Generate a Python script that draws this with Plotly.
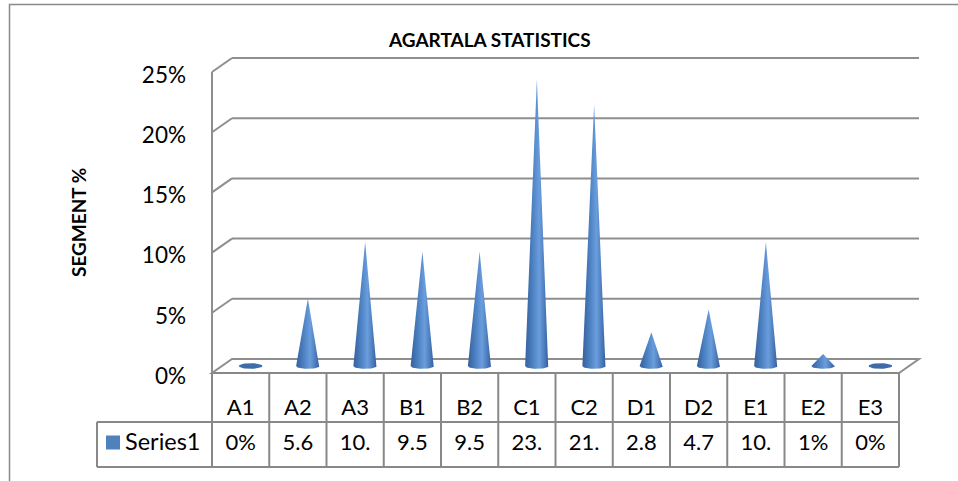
import numpy as np
import plotly.graph_objects as go

# ---------------- data ----------------
categories = ["A1", "A2", "A3", "B1", "B2", "C1", "C2", "D1", "D2", "E1", "E2", "E3"]
values = [0.0, 5.6, 10.3, 9.5, 9.5, 23.8, 21.7, 2.8, 4.7, 10.3, 1.0, 0.0]
table_text = ["0%", "5.6", "10.", "9.5", "9.5", "23.", "21.", "2.8", "4.7", "10.", "1%", "0%"]
y_ticks = [0, 5, 10, 15, 20, 25]
y_tick_text = ["0%", "5%", "10%", "15%", "20%", "25%"]
series_name = "Series1"
chart_title = "AGARTALA STATISTICS"
y_title = "SEGMENT %"

# ---------------- geometry (pixels) ----------------
W, H = 958, 481
X0, COL = 212.0, 57.25      # left of first category column, column width
Y0, PPU = 373.0, 12.04      # pixel of 0 %, pixels per 1 %
n = len(categories)

def px(x):
    return (x - X0) / COL

def py(y):
    return (Y0 - y) / PPU

DX = 20.0 / COL   # depth offset of the back wall
DY = 14.0 / PPU

FONT = "Lato, Carlito, Calibri, 'Open Sans', sans-serif"
GRID = "#8e8e8e"
TBL = "#888888"

fig = go.Figure()
shapes = []

# outer chart border
shapes.append(dict(type="rect", x0=px(9.5), x1=px(1000), y0=py(4.5), y1=py(520),
                   line=dict(color="#898989", width=1.5), fillcolor="rgba(0,0,0,0)", layer="below"))

# floor
shapes.append(dict(type="path",
                   path=f"M {0},{0} L {n},{0} L {n+DX},{DY} L {DX},{DY} Z",
                   line=dict(color=GRID, width=2), fillcolor="white", layer="below"))
# back wall grid lines
for t in y_ticks:
    if t == 0:
        continue
    shapes.append(dict(type="line", x0=DX, x1=n + DX, y0=t + DY, y1=t + DY,
                       line=dict(color=GRID, width=2), layer="below"))
    shapes.append(dict(type="line", x0=0, x1=DX, y0=t, y1=t + DY,
                       line=dict(color=GRID, width=2), layer="below"))
# left wall front edge
shapes.append(dict(type="line", x0=0, x1=0, y0=0, y1=max(y_ticks),
                   line=dict(color=GRID, width=2), layer="below"))

# data table grid
row1_bot = py(422)
row2_bot = py(467)
leg_left = px(97)
shapes.append(dict(type="line", x0=0, x1=n, y0=0, y1=0, line=dict(color=TBL, width=2)))
for yy in (row1_bot, row2_bot):
    shapes.append(dict(type="line", x0=leg_left, x1=n, y0=yy, y1=yy, line=dict(color=TBL, width=2)))
for k in range(n + 1):
    shapes.append(dict(type="line", x0=k, x1=k, y0=0, y1=row2_bot, line=dict(color=TBL, width=2)))
shapes.append(dict(type="line", x0=leg_left, x1=leg_left, y0=row1_bot, y1=row2_bot,
                   line=dict(color=TBL, width=2)))
# legend key
shapes.append(dict(type="rect", x0=px(106), x1=px(120), y0=py(435.5), y1=py(449.5),
                   line=dict(width=0), fillcolor="#4f81bd"))

# cones
w = 11.75 / COL
h = 2.8 / PPU
b = DY / 2
theta = np.linspace(0, -np.pi, 25)
for i, v in enumerate(values):
    c = i + 0.5 + DX / 2
    if v == 0:
        th = np.linspace(0, 2 * np.pi, 40)
        xs = c + w * np.cos(th)
        ys = b + h * np.sin(th)
        fig.add_trace(go.Scatter(x=xs, y=ys, fill="toself", mode="lines",
                                 line=dict(width=0, color="#3d6ca8"), fillcolor="#3d6ca8",
                                 hoverinfo="skip", showlegend=False))
    else:
        xs = np.concatenate([[c], c + w * np.cos(theta), [c]])
        ys = np.concatenate([[b + v], b + h * np.sin(theta), [b + v]])
        fig.add_trace(go.Scatter(
            x=xs, y=ys, fill="toself", mode="lines", line=dict(width=0, color="#4a7ebb"),
            fillgradient=dict(type="horizontal", start=c - w, stop=c + w,
                              colorscale=[[0, "#365f9c"], [0.3, "#4a7fc0"], [0.6, "#6a9ddc"],
                                          [0.85, "#4877b8"], [1, "#335c98"]]),
            hoverinfo="skip", showlegend=False, name=categories[i]))

# table texts
xc = [i + 0.5 for i in range(n)]
fig.add_trace(go.Scatter(x=xc, y=[py(409)] * n, mode="text", text=categories,
                         textfont=dict(family=FONT, size=22, color="black"),
                         hoverinfo="skip", showlegend=False))
fig.add_trace(go.Scatter(x=xc, y=[py(444.5)] * n, mode="text", text=table_text,
                         textfont=dict(family=FONT, size=22, color="black"),
                         hoverinfo="skip", showlegend=False))
fig.add_trace(go.Scatter(x=[px(125)], y=[py(444)], mode="text", text=[series_name],
                         textposition="middle right",
                         textfont=dict(family=FONT, size=23.5, color="black"),
                         hoverinfo="skip", showlegend=False))

fig.update_layout(
    width=W, height=H,
    margin=dict(l=0, r=0, t=0, b=0),
    paper_bgcolor="white", plot_bgcolor="white",
    shapes=shapes,
    showlegend=False,
    xaxis=dict(range=[px(0), px(W)], visible=False, domain=[0, 1]),
    yaxis=dict(range=[py(H), py(0)], domain=[0, 1], anchor="free", position=X0 / W,
               tickvals=y_ticks, ticktext=y_tick_text, showgrid=False, zeroline=False,
               showline=False, ticks="", ticklabelstandoff=26, ticklabelshift=3,
               tickfont=dict(family=FONT, size=22.5, color="black")),
    annotations=[
        dict(text=f"<b>{chart_title}</b>", x=px(489), y=py(39), xref="x", yref="y",
             showarrow=False, font=dict(family=FONT, size=19, color="black")),
        dict(text=f"<b>{y_title}</b>", x=px(78), y=py(223), xref="x", yref="y",
             textangle=-90, showarrow=False, font=dict(family=FONT, size=19, color="black")),
    ],
)

fig.write_html("out.html", config={"displayModeBar": False, "staticPlot": True},
               post_script="document.body.style.margin='0';document.body.style.overflow='hidden';")
